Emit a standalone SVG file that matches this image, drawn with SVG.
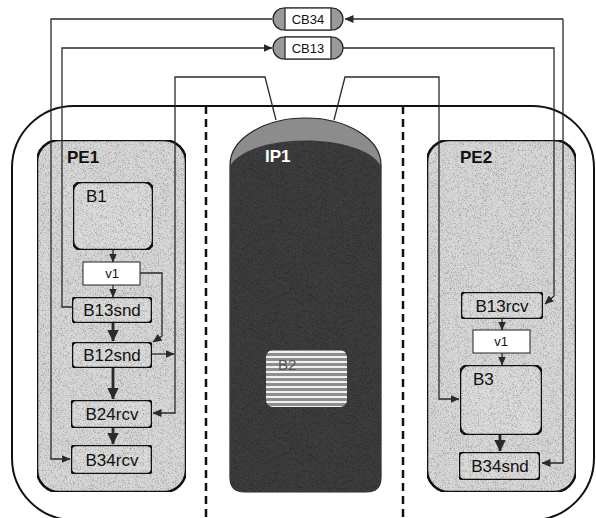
<svg xmlns="http://www.w3.org/2000/svg" width="596" height="518" viewBox="0 0 596 518">
<style>
text{font-family:"Liberation Sans",Arial,sans-serif;fill:#111}
.pe{fill:#d8d8d8;stroke:#151515;stroke-width:2.5}
.nd{fill:#dcdcdc;stroke:#151515;stroke-width:2.5}
.v{fill:#fff;stroke:#222;stroke-width:1}
.lbl{font-size:17px;text-anchor:middle}
.hd{font-size:17px;font-weight:bold}
.sm{font-size:13px;text-anchor:middle}
.c{fill:none;stroke:#2a2a2a;stroke-width:1.3}
.ct{fill:none;stroke:#2a2a2a;stroke-width:2.8}
.cap{fill:#9a9a9a;stroke:#222;stroke-width:1.2}
</style>
<defs>
<filter id="grain" x="0" y="0" width="100%" height="100%">
<feTurbulence type="fractalNoise" baseFrequency="1.6" numOctaves="1" seed="4" result="n"/>
<feColorMatrix in="n" type="matrix" values="0 0 0 0 0  0 0 0 0 0  0 0 0 0 0  1.6 0 0 0 -0.75" result="d"/>
<feComposite in="d" in2="SourceGraphic" operator="in" result="dm"/>
<feMerge><feMergeNode in="SourceGraphic"/><feMergeNode in="dm"/></feMerge>
</filter>
<pattern id="stripes" patternUnits="userSpaceOnUse" width="6" height="5">
<rect width="6" height="5" fill="#8e8e8e"/>
<rect y="1" width="6" height="2" fill="#f2f2f2"/>
</pattern>
<marker id="ah" markerUnits="userSpaceOnUse" markerWidth="9" markerHeight="8" refX="8.5" refY="4" orient="auto"><path d="M0,0 L9,4 L0,8 z" fill="#2a2a2a"/></marker>
<marker id="ab" markerUnits="userSpaceOnUse" markerWidth="12" markerHeight="12" refX="11.5" refY="6" orient="auto"><path d="M0,0 L12,6 L0,12 z" fill="#2a2a2a"/></marker>
</defs>

<g id="system">
<rect x="12" y="106" width="582" height="414" rx="62" fill="#fff" stroke="#111" stroke-width="2"/>
<line x1="206" y1="106" x2="206" y2="518" stroke="#111" stroke-width="2.5" stroke-dasharray="8 5"/>
<line x1="403" y1="106" x2="403" y2="518" stroke="#111" stroke-width="2.5" stroke-dasharray="8 5"/>
</g>

<g id="PE1">
<rect class="pe" x="37" y="140" width="149" height="352" rx="22" filter="url(#grain)"/>
<text class="hd" x="67" y="163">PE1</text>
</g>
<g id="PE2">
<rect class="pe" x="427" y="140" width="149" height="352" rx="22" filter="url(#grain)"/>
<text class="hd" x="460" y="163">PE2</text>
</g>

<g id="IP1">
<path d="M230,165 A75.5,47 0 0 1 381,165 V477 Q381,492 366,492 H245 Q230,492 230,477 Z" fill="#8c8c8c" stroke="#222" stroke-width="1.2"/>
<path d="M230,166 C250,132 361,132 381,166 V477 Q381,492 366,492 H245 Q230,492 230,477 Z" fill="#3e3e3e" filter="url(#grain)"/>
<text x="265" y="162" style="font-size:17px;font-weight:bold;fill:#fff">IP1</text>
</g>
<g id="B2">
<rect x="266" y="350" width="81" height="57" rx="7" fill="url(#stripes)"/>
<text x="278" y="370" style="font-size:15px;fill:#555">B2</text>
</g>

<g id="B1"><rect class="nd" x="73" y="182" width="80" height="68" rx="9" filter="url(#grain)"/><text x="86" y="202" style="font-size:17px">B1</text></g>
<g id="v1-PE1"><rect class="v" x="83" y="262" width="57" height="23"/><text class="sm" x="112" y="278">v1</text></g>
<g id="B13snd"><rect class="nd" x="72" y="297" width="80" height="26" rx="5" filter="url(#grain)"/><text class="lbl" x="112" y="316">B13snd</text></g>
<g id="B12snd"><rect class="nd" x="72" y="342" width="80" height="26" rx="5" filter="url(#grain)"/><text class="lbl" x="112" y="361">B12snd</text></g>
<g id="B24rcv"><rect class="nd" x="71" y="400" width="81" height="28" rx="5" filter="url(#grain)"/><text class="lbl" x="112" y="420">B24rcv</text></g>
<g id="B34rcv"><rect class="nd" x="71" y="445" width="81" height="29" rx="5" filter="url(#grain)"/><text class="lbl" x="112" y="466">B34rcv</text></g>

<g id="B13rcv"><rect class="nd" x="461" y="292" width="82" height="27" rx="5" filter="url(#grain)"/><text class="lbl" x="502" y="312">B13rcv</text></g>
<g id="v1-PE2"><rect class="v" x="473" y="330" width="57" height="23"/><text class="sm" x="501" y="346">v1</text></g>
<g id="B3"><rect class="nd" x="460" y="365" width="82" height="70" rx="9" filter="url(#grain)"/><text x="473" y="385" style="font-size:17px">B3</text></g>
<g id="B34snd"><rect class="nd" x="459" y="452" width="81" height="28" rx="5" filter="url(#grain)"/><text class="lbl" x="500" y="472">B34snd</text></g>

<g id="CB34">
<rect class="cap" x="273" y="8" width="70" height="22" rx="11"/>
<rect x="285" y="8" width="46" height="22" fill="#fff" stroke="#222" stroke-width="1.2"/>
<text class="sm" x="308" y="24">CB34</text>
</g>
<g id="CB13">
<rect class="cap" x="273" y="37" width="70" height="22" rx="11"/>
<rect x="285" y="37" width="46" height="22" fill="#fff" stroke="#222" stroke-width="1.2"/>
<text class="sm" x="308" y="53">CB13</text>
</g>

<g id="connectors">
<path class="c" d="M272,19 H51 V459 H70" marker-end="url(#ah)"/>
<path class="c" d="M563,19 H345" marker-end="url(#ah)"/>
<path class="c" d="M563,19 V463 H542" marker-end="url(#ah)"/>
<path class="c" d="M72,307 H62 V48 H272" marker-end="url(#ah)"/>
<path class="c" d="M343,48 H554 V296 L545,304" marker-end="url(#ah)"/>
<path class="c" d="M276,120 L265,77 H175 V413 H153" marker-end="url(#ah)"/>
<path class="c" d="M152,354 H174" marker-end="url(#ah)"/>
<path class="c" d="M334,120 L345,77 H439 V399 H459" marker-end="url(#ah)"/>
<path class="c" d="M140,273 H162 V336 L153,342" marker-end="url(#ah)"/>
<path class="c" d="M113,250 V262" marker-end="url(#ah)"/>
<path class="c" d="M113,285 V297" marker-end="url(#ah)"/>
<path class="ct" d="M113,323 V341" marker-end="url(#ab)"/>
<path class="ct" d="M113,368 V399" marker-end="url(#ab)"/>
<path class="ct" d="M113,428 V444" marker-end="url(#ab)"/>
<path class="c" d="M502,319 V330" marker-end="url(#ah)"/>
<path class="c" d="M502,353 V365" marker-end="url(#ah)"/>
<path class="ct" d="M500,435 V451" marker-end="url(#ab)"/>
</g>
</svg>
